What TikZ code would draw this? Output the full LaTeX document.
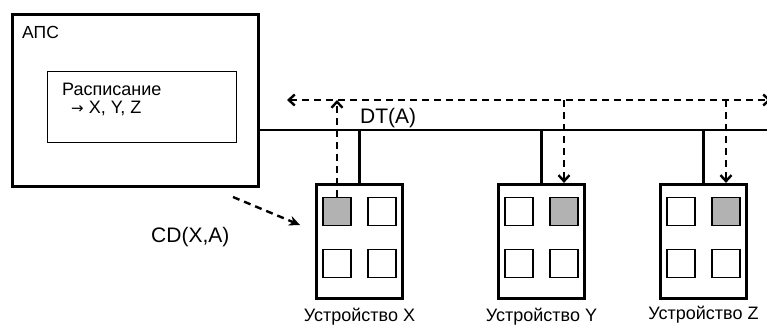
\documentclass[tikz,border=0pt]{standalone}
\usepackage{fontspec}
\setmainfont{Liberation Sans}
\newfontfamily\arrowfont{DejaVu Sans}
\usetikzlibrary{arrows.meta}
\definecolor{cellgray}{HTML}{B2B2B2}

\begin{document}
\begin{tikzpicture}[x=1pt, y=-1pt, font=\fontsize{18}{21}\selectfont,
    apsbox/.style={draw, line width=3.2pt, minimum width=246pt, minimum height=172pt},
    schedbox/.style={draw, line width=1.4pt, minimum width=188.7pt, minimum height=70.7pt},
    devbox/.style={draw, line width=3.2pt, minimum width=86pt, minimum height=114pt},
    cell/.style={draw, line width=1.4pt, fill=white, minimum size=27.7pt, inner sep=0pt},
    bus/.style={line width=2.6pt},
    msg/.style={line width=2.4pt, dash pattern=on 7pt off 5pt},
    msglabel/.style={font=\fontsize{21}{24}\selectfont, anchor=base west, inner sep=0pt}]
  \useasboundingbox (0,0) rectangle (767,325);
  % system box with schedule
  \node[apsbox] (aps) at (135.5,100.5) {};
  \node[anchor=base west, inner sep=0pt, font=\fontsize{17.5}{20}\selectfont] (apslabel) at (22,38) {АПС};
  \node[schedbox] (sched) at (142,107) {};
  \node[anchor=base west, inner sep=0pt] (schedtitle) at (62,95) {Расписание};
  \node[anchor=base west, inner sep=0pt] (schedlist) at (71,113) {{\arrowfont\fontsize{15}{18}\selectfont →} X, Y, Z};
  % bus and message line
  \coordinate (busend) at (767,130);
  \draw[bus] (aps.east |- busend) -- (busend);
  \coordinate (dtL) at (287,100);
  \coordinate (dtR) at (771,100);
  \draw[msg, {Straight Barb[length=6pt,width=11pt]}-{Straight Barb[length=6pt,width=11pt]}] (dtL) -- (dtR);
  \node[msglabel] (dt) at (360,123) {DT(A)};
  % devices
  \foreach \d/\xc/\yl/\lft/\rgt in {X/359.5/321/cellgray/white, Y/541.5/321.5/white/cellgray, Z/703.5/319/white/cellgray} {
    \node[devbox] (dev\d) at (\xc,241.5) {};
    \node[cell, fill=\lft] (tl\d) at ([shift={(-22.5,-30)}]dev\d.center) {};
    \node[cell, fill=\rgt] (tr\d) at ([shift={(22.5,-30)}]dev\d.center) {};
    \node[cell] (bl\d) at ([shift={(-22.5,22)}]dev\d.center) {};
    \node[cell] (br\d) at ([shift={(22.5,22)}]dev\d.center) {};
    \node[anchor=base, inner sep=0pt] (lab\d) at (\xc,\yl) {Устройство \d};
    \draw[bus] (dev\d.north) -- (dev\d.north |- busend);
  }
  % messages to and from devices
  \draw[msg, -{Straight Barb[length=6pt,width=11pt]}] (tlX.north) -- (tlX.north |- dtL);
  \draw[msg, -{Straight Barb[length=6pt,width=11pt]}] (trY.north |- dtL) -- (devY.north -| trY);
  \draw[msg, -{Straight Barb[length=6pt,width=11pt]}] (trZ.north |- dtL) -- (devZ.north -| trZ);
  \coordinate (cdS) at (233,197);
  \coordinate (cdE) at (300,225);
  \draw[msg, -{Stealth[length=11pt,width=10pt]}] (cdS) -- (cdE);
  \node[msglabel] (cd) at (151,242) {CD(X,A)};
\end{tikzpicture}
\end{document}
